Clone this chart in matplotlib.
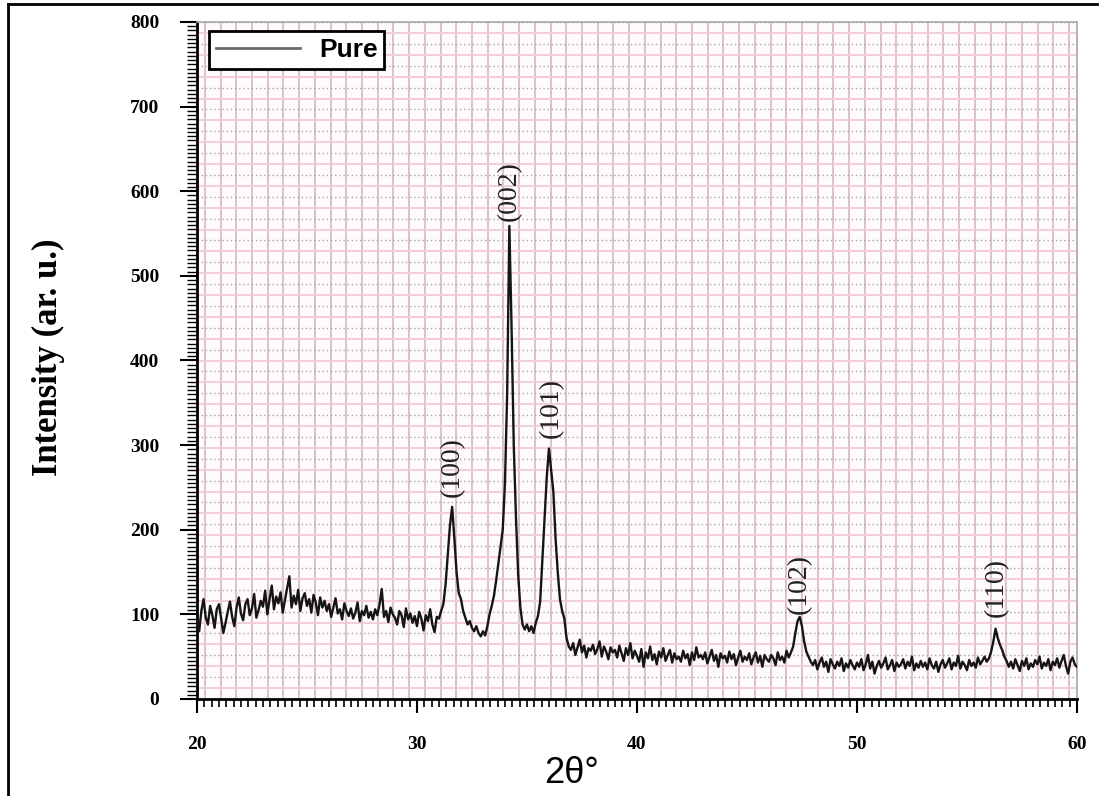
import numpy as np
import matplotlib
matplotlib.use('Agg')
import matplotlib.pyplot as plt
import matplotlib.ticker as mticker
from matplotlib.lines import Line2D

# XRD pattern of the pure sample, sampled every 0.1 degree (2theta 20 .. 60)
two_theta = np.round(np.arange(20.0, 60.05, 0.1), 1)
intensity = [
    92, 80, 104, 118, 96, 88, 110, 99, 84, 106,        # 20
    112, 95, 78, 90, 103, 115, 97, 86, 108, 120,       # 21
    101, 93, 112, 118, 99, 107, 124, 96, 105, 116,     # 22
    109, 128, 100, 118, 134, 106, 121, 113, 126, 102,  # 23
    117, 131, 145, 108, 122, 112, 129, 104, 119, 125,  # 24
    110, 118, 102, 123, 114, 99, 120, 108, 116, 104,   # 25
    112, 97, 108, 119, 101, 106, 94, 113, 104, 98,     # 26
    107, 95, 102, 114, 92, 104, 99, 110, 96, 103,      # 27
    94, 106, 99, 112, 130, 97, 104, 91, 108, 100,      # 28
    96, 88, 104, 99, 85, 107, 94, 101, 90, 98,         # 29
    86, 103, 95, 81, 99, 92, 106, 88, 79, 97,          # 30
    95, 104, 112, 135, 170, 205, 227, 190, 150, 125,   # 31
    118, 104, 96, 88, 92, 84, 80, 86, 78, 74,          # 32
    80, 75, 86, 100, 110, 122, 140, 160, 180, 200,     # 33
    255, 360, 559, 440, 300, 215, 148, 108, 88, 82,    # 34
    88, 80, 86, 78, 90, 98, 115, 165, 213, 262,        # 35
    296, 270, 245, 190, 150, 118, 104, 95, 72, 62,     # 36
    58, 66, 52, 61, 70, 55, 63, 49, 60, 57,            # 37
    64, 53, 59, 68, 50, 62, 56, 47, 61, 55,            # 38
    58, 49, 63, 54, 45, 60, 52, 66, 48, 57,            # 39
    51, 44, 59, 38, 55, 48, 62, 46, 53, 41,            # 40
    56, 49, 60, 45, 52, 58, 43, 54, 47, 50,            # 41
    44, 57, 48, 53, 40, 55, 46, 61, 49, 52,            # 42
    47, 55, 42, 50, 58, 45, 52, 38, 54, 48,            # 43
    51, 43, 56, 47, 53, 40, 49, 57, 44, 50,            # 44
    46, 54, 41, 49, 55, 43, 51, 38, 52, 47,            # 45
    44, 52, 48, 40, 55, 46, 50, 43, 57, 49,            # 46
    55, 62, 78, 92, 97, 86, 68, 56, 50, 44,            # 47
    40, 46, 35, 43, 49, 38, 44, 32, 47, 41,            # 48
    36, 44, 39, 48, 33, 42, 37, 46, 40, 35,            # 49
    43, 38, 47, 34, 41, 52, 36, 44, 30, 39,            # 50
    45, 37, 42, 49, 35, 40, 46, 33, 43, 38,            # 51
    41, 47, 36, 44, 39, 50, 34, 42, 37, 45,            # 52
    38, 43, 35, 48, 40, 36, 44, 32, 41, 46,            # 53
    37, 42, 48, 35, 43, 39, 51, 36, 44, 40,            # 54
    34, 46, 39, 43, 37, 49, 41, 45, 50, 44,            # 55
    48, 56, 68, 83, 72, 64, 58, 50, 45, 38,            # 56
    44, 36, 47, 40, 33, 45, 39, 48, 35, 42,            # 57
    38, 46, 41, 50, 36, 43, 39, 47, 34, 44,            # 58
    40, 48, 37, 45, 52, 39, 30, 44, 49, 41,            # 59
    38,                                                # 60
]

# Miller indices of the reflections and where their labels sit
peak_labels = ['(100)', '(002)', '(101)', '(102)', '(110)']
peak_pos = [31.6, 34.2, 36.1, 47.4, 56.35]
peak_label_base = [239, 565, 308, 100, 97]

x_ticks = [20, 30, 40, 50, 60]
y_ticks = [0, 100, 200, 300, 400, 500, 600, 700, 800]

SERIF = 'Liberation Serif'
SANS = 'Liberation Sans'

fig = plt.figure(figsize=(11.04, 7.96), dpi=100)
ax = fig.add_axes([0.1784, 0.1219, 0.7971, 0.8505])
ax.set_facecolor('#fffbfc')

# graph-paper style background grid
v_step = 40 / 56
h_step = 25.8
vx = [20 + (k + 0.5) * v_step for k in range(56)]
ax.vlines(vx, 0, 800, colors='#dbbcc5', linewidth=1.3, zorder=0)
hy_pink = [(k + 0.5) * h_step for k in range(31)]
hy_grey = [k * h_step for k in range(1, 32)]
ax.hlines(hy_pink, 20, 60, colors='#efcbd5', linewidth=1.3, zorder=0)
ax.hlines(hy_grey, 20, 60, colors='#a4a4a4', linewidth=1.0,
          linestyles=(0, (1, 2)), zorder=0)

ax.plot(two_theta, intensity, color='#151515', linewidth=1.7, zorder=3)

for lab, xp, yb in zip(peak_labels, peak_pos, peak_label_base):
    ax.text(xp, yb, lab, rotation=90, ha='center', va='bottom',
            family=SERIF, fontsize=20, color='#202020', zorder=4)

ax.set_xlim(20, 60)
ax.set_ylim(0, 800)
ax.set_xticks(x_ticks)
ax.set_yticks(y_ticks)
ax.xaxis.set_minor_locator(mticker.MultipleLocator(1 / 3))
ax.yaxis.set_minor_locator(mticker.MultipleLocator(5))

ax.tick_params(axis='x', which='major', direction='out', length=10, width=1.5,
               pad=17)
ax.tick_params(axis='x', which='minor', direction='out', length=6, width=1.2)
ax.tick_params(axis='y', which='major', direction='out', length=12, width=1.5,
               pad=15)
ax.tick_params(axis='y', which='minor', direction='out', length=7, width=1.0)
for lbl in ax.get_xticklabels() + ax.get_yticklabels():
    lbl.set_family(SERIF)
    lbl.set_fontweight('bold')
    lbl.set_fontsize(14)

for side in ['left', 'bottom']:
    ax.spines[side].set_linewidth(2)
    ax.spines[side].set_color('black')
for side in ['top', 'right']:
    ax.spines[side].set_linewidth(1.2)
    ax.spines[side].set_color('#a8a8a8')

handle = Line2D([], [], color='#6a6a6a', linewidth=2)
leg = ax.legend([handle], ['Pure'], loc='upper left',
                bbox_to_anchor=(0.008, 0.994), handlelength=3.2,
                borderpad=0.25, handletextpad=0.7, borderaxespad=0.2,
                prop={'family': SANS, 'weight': 'bold', 'size': 19},
                fancybox=False, framealpha=1)
leg.get_frame().set_edgecolor('black')
leg.get_frame().set_linewidth(2)

fig.text(572 / 1104, 0.028, '2θ°', family=SANS, fontsize=26,
         ha='center', va='center')
fig.text(48 / 1104, (796 - 357) / 796, 'Intensity (ar. u.)', rotation=90,
         family=SERIF, fontweight='bold', fontsize=25,
         ha='center', va='center')

# outer frame lines of the original figure
fig.add_artist(Line2D([8 / 1104, 1097 / 1104], [1 - 4 / 796, 1 - 4 / 796],
                      color='black', linewidth=2, transform=fig.transFigure))
fig.add_artist(Line2D([8 / 1104, 8 / 1104], [0, 1 - 4 / 796],
                      color='black', linewidth=2, transform=fig.transFigure))

fig.savefig('out.png', dpi=100)
